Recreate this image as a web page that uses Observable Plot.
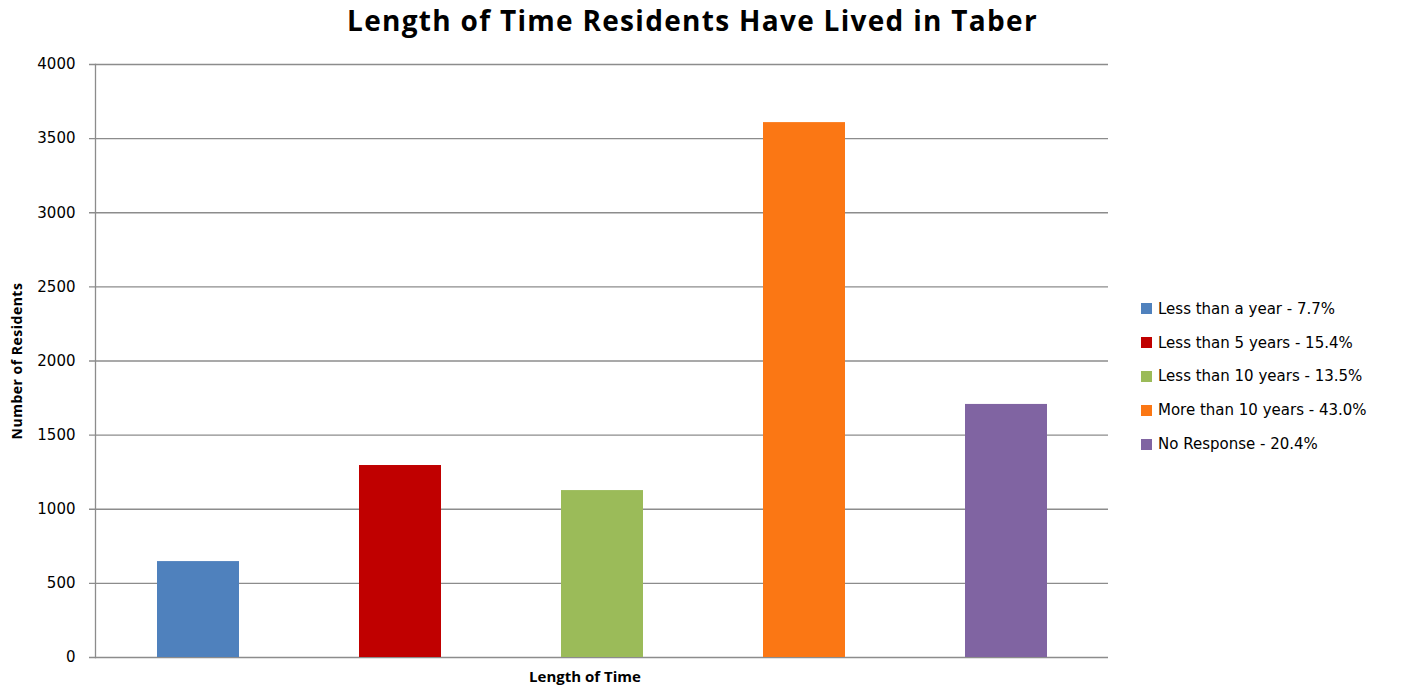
<!DOCTYPE html>
<html>
<head>
<meta charset="utf-8">
<script src="https://cdn.jsdelivr.net/npm/d3@7"></script>
<script src="https://cdn.jsdelivr.net/npm/@observablehq/plot@0.6"></script>
<style>
  html, body { margin: 0; padding: 0; background: #fff; }
  #wrap { position: relative; width: 1403px; height: 689px; overflow: hidden; }
  #title { position: absolute; left: 0; width: 1385px; top: 1px; text-align: center;
    font-family: "Open Sans", sans-serif; font-weight: bold; font-size: 28px; letter-spacing: 1.3px; color: #000; }
  #legend { position: absolute; left: 1141px; top: 292px; font-family: "DejaVu Sans", sans-serif; font-size: 15px; color: #000; }
  .item { display: flex; align-items: center; height: 33.8px; }
  .sw { width: 11px; height: 11px; margin-right: 6px; }
  #chart { position: absolute; left: 0; top: 0; }
</style>
</head>
<body>
<div id="wrap">
  <div id="chart"></div>
  <div id="title">Length of Time Residents Have Lived in Taber</div>
  <div id="legend"></div>
</div>
<script>
const categories = ["Less than a year", "Less than 5 years", "Less than 10 years", "More than 10 years", "No Response"];
const percents = ["7.7%", "15.4%", "13.5%", "43.0%", "20.4%"];
const values = [647, 1295, 1126, 3608, 1707];
const colors = ["#4f81bd", "#c00000", "#9bbb59", "#fb7714", "#8064a2"];
const yTicks = [0, 500, 1000, 1500, 2000, 2500, 3000, 3500, 4000];

const data = categories.map((c, i) => ({category: c, value: values[i], color: colors[i]}));

const chart = Plot.plot({
  width: 1403,
  height: 689,
  marginLeft: 95,
  marginRight: 295,
  marginTop: 64,
  marginBottom: 32,
  style: {fontFamily: "DejaVu Sans, sans-serif", fontSize: "15px", color: "#000", background: "#fff"},
  x: {domain: categories, paddingInner: 0.595, paddingOuter: 0.2975, axis: null},
  y: {domain: [0, 4000], ticks: yTicks},
  marks: [
    Plot.ruleY(yTicks, {stroke: "#8c8c8c", strokeWidth: 1.3, insetLeft: -6}),
    Plot.frame({anchor: "left", stroke: "#8c8c8c", strokeWidth: 1.3}),
    Plot.barY(data, {x: "category", y: "value", fill: "color"}),
    Plot.axisY({ticks: yTicks, tickFormat: "d", tickSize: 0, tickPadding: 20, label: "Number of Residents", labelAnchor: "center", labelArrow: "none", labelOffset: 83, fontSize: 15}),
    Plot.text(["Length of Time"], {frameAnchor: "bottom", dy: 24, dx: -17, fontWeight: "bold", fontSize: 15, fontFamily: "Open Sans, sans-serif", letterSpacing: "0.9px"})
  ]
});
document.getElementById("chart").appendChild(chart);

chart.querySelectorAll("[aria-label='y-axis label'] text").forEach(t => {
  t.setAttribute("font-weight", "bold");
  t.setAttribute("font-size", "14");
  t.setAttribute("font-family", "Open Sans, sans-serif");
  t.setAttribute("letter-spacing", "0.5px");
});

const legend = document.getElementById("legend");
categories.forEach((c, i) => {
  const row = document.createElement("div");
  row.className = "item";
  row.innerHTML = `<span class="sw" style="background:${colors[i]}"></span><span>${c} - ${percents[i]}</span>`;
  legend.appendChild(row);
});
</script>
</body>
</html>
